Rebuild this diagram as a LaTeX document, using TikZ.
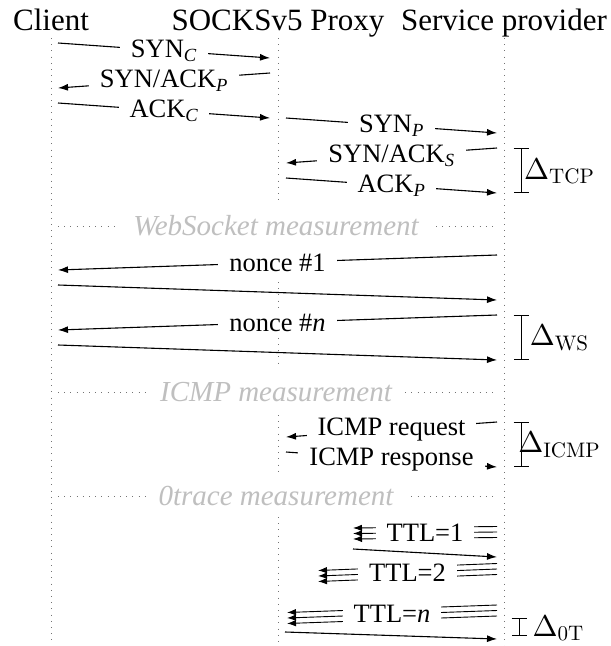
\documentclass[tikz,border=0pt]{standalone}
\usepackage{fontspec}
\setmainfont{Liberation Serif}
\newfontfamily\lmfont{lmroman10-regular.otf}
\usetikzlibrary{arrows.meta,calc}

% one labelled message: name, start x, start y, end x, end y, label
\newcommand\msgarrow[6]{%
  \coordinate (#1-a) at (#2,#3);
  \coordinate (#1-b) at (#4,#5);
  \draw[msgline] (#1-a) -- node[msglabel] (#1-l) {#6} (#1-b);
}
% one message without a label
\newcommand\plainarrow[5]{%
  \coordinate (#1-a) at (#2,#3);
  \coordinate (#1-b) at (#4,#5);
  \draw[msgline] (#1-a) -- (#1-b);
}
% a burst of three probe packets drawn as parallel arrows
\newcommand\probearrow[6]{%
  \coordinate (#1-a) at (#2,#3);
  \coordinate (#1-b) at (#4,#5);
  \foreach \dy in {-5.5,5.5}{\draw[probeline] ($(#1-a)+(0,\dy)$) -- ($(#1-b)+(0,\dy)$);}
  \draw[probeline] (#1-a) -- node[msglabel] (#1-l) {#6} (#1-b);
}
% italic subscript for the message names
\newcommand\sub[1]{\textsubscript{\textit{#1}}}
% a delta with an upright subscript, set in Latin Modern
\newcommand\deltaof[1]{{\lmfont Δ\raisebox{-0.15em}{\fontsize{21}{24}\selectfont #1}}}

\begin{document}
\begin{tikzpicture}[x=1pt,y=-1pt,
  lifeline/.style={draw=black!55, line width=0.8pt, dash pattern=on 0.8pt off 5.4pt},
  msgline/.style={line width=1.1pt, -{Latex[length=10pt,width=7pt]}},
  probeline/.style={line width=0.9pt, -{Latex[length=9pt,width=6.5pt]}},
  msglabel/.style={fill=white, inner xsep=11pt, inner ysep=5pt,
    font=\fontsize{26.5}{30}\selectfont},
  sectlabel/.style={fill=white, text=black!25, inner xsep=13pt, inner ysep=2pt,
    font=\fontsize{29}{32}\selectfont\itshape},
  header/.style={anchor=base, inner sep=0pt, font=\fontsize{31}{36}\selectfont},
  bracket/.style={line width=1pt, {Bar[width=15pt]}-{Bar[width=15pt]}},
  deltalabel/.style={inner sep=0pt, font=\fontsize{30}{34}\selectfont}]
\useasboundingbox (0,0) rectangle (611,646);

% participants
\node[header] (client) at (51,30) {Client};
\node[header] (proxy) at (278,30) {SOCKSv5 Proxy};
\node[header] (server) at (504,30) {Service provider};

% lifelines
\coordinate (cl-top) at (51,38);   \coordinate (cl-bot) at (51,643);
\coordinate (sv-top) at (504,38);  \coordinate (sv-bot) at (504,646);
\draw[lifeline] (cl-top) -- (cl-bot);
\draw[lifeline] (sv-top) -- (sv-bot);
\coordinate (px1-top) at (278,38);  \coordinate (px1-bot) at (278,205);
\coordinate (px2-top) at (278,282); \coordinate (px2-bot) at (278,367);
\coordinate (px3-top) at (278,415); \coordinate (px3-bot) at (278,475);
\coordinate (px4-top) at (278,517); \coordinate (px4-bot) at (278,643);
\foreach \s in {1,2,3,4}{\draw[lifeline] (px\s-top) -- (px\s-bot);}

% TCP handshakes
\msgarrow{synC}{58}{43}{270}{58}{SYN\sub{C}}
\msgarrow{synackP}{270}{73}{58}{88}{SYN/ACK\sub{P}}
\msgarrow{ackC}{58}{103}{270}{118}{ACK\sub{C}}
\msgarrow{synP}{286}{118}{497}{133}{SYN\sub{P}}
\msgarrow{synackS}{497}{148}{286}{163}{SYN/ACK\sub{S}}
\msgarrow{ackP}{286}{178}{497}{193}{ACK\sub{P}}
\coordinate (tcp-t) at (521,148); \coordinate (tcp-b) at (521,193);
\draw[bracket] (tcp-t) -- (tcp-b);
\node[deltalabel] (dtcp) at (559,171) {\deltaof{TCP}};

% WebSocket measurement
\coordinate (ws-l) at (58,226); \coordinate (ws-r) at (497,226);
\draw[lifeline] (ws-l) -- node[sectlabel, pos=0.4966] (ws-lab) {WebSocket measurement} (ws-r);
\msgarrow{n1}{497}{255}{58}{270}{nonce \#1}
\plainarrow{f1}{58}{285}{497}{300}
\msgarrow{nn}{497}{315}{58}{330}{nonce \#\textit{n}}
\plainarrow{fn}{58}{345}{497}{360}
\coordinate (ws-t) at (521,315); \coordinate (ws-b) at (521,360);
\draw[bracket] (ws-t) -- (ws-b);
\node[deltalabel] (dws) at (559,337.5) {\deltaof{WS}};

% ICMP measurement
\coordinate (ic-l) at (58,392); \coordinate (ic-r) at (497,392);
\draw[lifeline] (ic-l) -- node[sectlabel, pos=0.4966] (ic-lab) {ICMP measurement} (ic-r);
\msgarrow{req}{497}{422}{286}{437}{ICMP request}
\msgarrow{resp}{286}{452}{497}{467}{ICMP response}
\coordinate (ic-t) at (521,422); \coordinate (ic-b) at (521,467);
\draw[bracket] (ic-t) -- (ic-b);
\node[deltalabel] (dic) at (559,444.5) {\deltaof{ICMP}};

% 0trace measurement
\coordinate (ot-l) at (58,496); \coordinate (ot-r) at (497,496);
\draw[lifeline] (ot-l) -- node[sectlabel, pos=0.4966] (ot-lab) {0trace measurement} (ot-r);
\probearrow{ttl1}{497}{532}{353}{533.5}{TTL=1}
\plainarrow{ttl1f}{353}{549}{497}{557}
\probearrow{ttl2}{497}{569}{318}{576}{TTL=2}
\probearrow{ttln}{497}{610.5}{287}{618}{TTL=\textit{n}}
\plainarrow{ttlnf}{285}{632}{497}{639}
\coordinate (ot-t) at (519,618); \coordinate (ot-b) at (519,636);
\draw[bracket] (ot-t) -- (ot-b);
\node[deltalabel] (dot) at (558,628) {\deltaof{0T}};
\end{tikzpicture}
\end{document}
